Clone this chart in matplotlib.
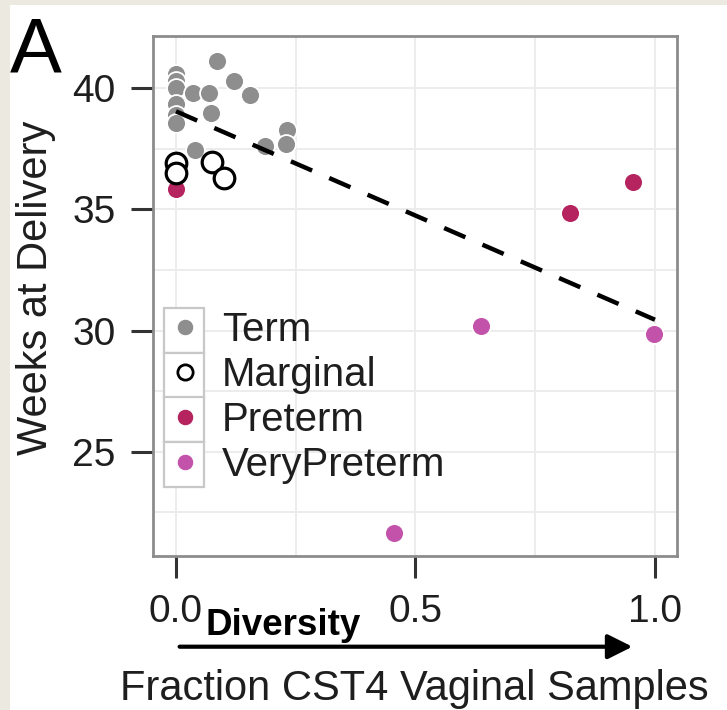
import matplotlib
matplotlib.use('Agg')
import matplotlib.pyplot as plt
from matplotlib.lines import Line2D
from matplotlib.patches import Rectangle, FancyArrowPatch
import numpy as np

plt.rcParams['font.family'] = ['Liberation Sans', 'DejaVu Sans']

# ---------------- data ----------------
term_x = [0.0, 0.0, 0.0, 0.0, 0.0, 0.0, 0.035, 0.068, 0.085, 0.121, 0.155, 0.074, 0.040, 0.186, 0.232, 0.230]
term_y = [40.6, 40.3, 40.0, 39.35, 38.9, 38.55, 39.82, 39.82, 41.13, 40.3, 39.72, 39.0, 37.45, 37.6, 38.3, 37.7]

marginal_x = [0.0, 0.0, 0.075, 0.100]
marginal_y = [36.9, 36.5, 36.95, 36.3]

preterm_x = [0.0, 0.823, 0.955]
preterm_y = [35.85, 34.85, 36.12]

verypreterm_x = [0.455, 0.636, 0.998]
verypreterm_y = [21.64, 30.18, 29.88]

fit_x = [0.0, 1.0]
fit_intercept = 39.05
fit_slope = -8.6

x_ticks = [0.0, 0.5, 1.0]
x_tick_labels = ['0.0', '0.5', '1.0']
x_minor = [0.25, 0.75]
y_ticks = [25, 30, 35, 40]
y_tick_labels = ['25', '30', '35', '40']
y_minor = [22.5, 27.5, 32.5, 37.5]

legend_labels = ['Term', 'Marginal', 'Preterm', 'VeryPreterm']

# ---------------- style ----------------
C_TERM = '#8e8e8e'
C_PRE = '#b5245e'
C_VPRE = '#c353aa'
TXT = '#1e1e1e'

W, H = 727, 710
fig = plt.figure(figsize=(W / 100, H / 100), dpi=100)
fig.patch.set_facecolor('#ece9e1')
fig.add_artist(Rectangle((10 / W, 0), 1 - 10 / W, 1 - 5 / H, transform=fig.transFigure,
                         facecolor='white', edgecolor='none', zorder=-1))

L, R, T, B = 153, 677, 36, 556
ax = fig.add_axes([L / W, 1 - B / H, (R - L) / W, (B - T) / H])
ax.set_facecolor('white')
ax.set_xlim(-0.048, 1.046)
ax.set_ylim(20.70, 42.16)

ax.set_xticks(x_ticks)
ax.set_xticklabels(x_tick_labels)
ax.set_yticks(y_ticks)
ax.set_yticklabels(y_tick_labels)
ax.set_xticks(x_minor, minor=True)
ax.set_yticks(y_minor, minor=True)
ax.grid(which='both', color='#ececec', linewidth=1.4, zorder=0)
ax.set_axisbelow(True)
ax.tick_params(which='minor', length=0)
ax.tick_params(which='major', length=16, width=2.2, color='#333333', pad=11,
               labelsize=28, labelcolor=TXT)
for sp in ax.spines.values():
    sp.set_color('#8c8c8c')
    sp.set_linewidth(2.0)

# points
ax.scatter(term_x, term_y, s=185, c=C_TERM, edgecolors='white', linewidths=1.3, zorder=3)
ax.scatter(preterm_x, preterm_y, s=185, c=C_PRE, edgecolors='white', linewidths=1.3, zorder=3)
ax.scatter(verypreterm_x, verypreterm_y, s=185, c=C_VPRE, edgecolors='white', linewidths=1.3, zorder=3)
ax.scatter(marginal_x, marginal_y, s=220, facecolors='white', edgecolors='black', linewidths=2.3, zorder=4)

# regression line
fit_y = [fit_intercept + fit_slope * v for v in fit_x]
ax.plot(fit_x, fit_y, color='black', linewidth=3.2, linestyle=(0, (5.2, 4.2)), zorder=5)

# legend
handles = [
    Line2D([], [], marker='o', ls='', markersize=12, markerfacecolor=C_TERM, markeredgecolor='white', markeredgewidth=0.8),
    Line2D([], [], marker='o', ls='', markersize=11, markerfacecolor='white', markeredgecolor='black', markeredgewidth=2.0),
    Line2D([], [], marker='o', ls='', markersize=12, markerfacecolor=C_PRE, markeredgecolor='white', markeredgewidth=0.8),
    Line2D([], [], marker='o', ls='', markersize=12, markerfacecolor=C_VPRE, markeredgecolor='white', markeredgewidth=0.8),
]
fs_leg = 29
leg = ax.legend(handles, legend_labels, loc='center left',
                bbox_to_anchor=(175 / W, 1 - 397.5 / H), bbox_transform=fig.transFigure,
                frameon=False, borderpad=0, borderaxespad=0, fontsize=fs_leg,
                handlelength=0.5, handletextpad=0.67, labelspacing=0.17)
for t in leg.get_texts():
    t.set_color(TXT)
leg.set_zorder(10)

# per-key boxes (drawn under the legend)
fig.canvas.draw()
for t in leg.get_texts():
    bb = t.get_window_extent()
    yc = (bb.y0 + bb.y1) / 2.0
    box = Rectangle((164 / W, (yc - 22.5) / H), 40 / W, 45 / H, transform=fig.transFigure,
                    facecolor='white', edgecolor='#c8c8c8', linewidth=1.6, zorder=6, clip_on=False)
    ax.add_patch(box)

# axis titles
fig.text(414 / W, 1 - 700 / H, 'Fraction CST4 Vaginal Samples', ha='center', va='baseline',
         fontsize=30, color=TXT)
fig.text(36 / W, 1 - 288 / H, 'Weeks at Delivery', ha='center', va='center', rotation=90,
         fontsize=30, color=TXT)

# panel letter
fig.text(10 / W, 1 - 73 / H, 'A', ha='left', va='baseline', fontsize=56, color='black')

# diversity arrow
fig.text(205 / W, 1 - 635 / H, 'Diversity', ha='left', va='baseline', fontsize=26.5,
         fontweight='bold', color='black')
arr = FancyArrowPatch((179.6 / W, 1 - 646.7 / H), (632.4 / W, 1 - 646.7 / H),
                      transform=fig.transFigure, arrowstyle='-|>,head_length=15,head_width=7.5',
                      mutation_scale=1, linewidth=3.0, color='black', shrinkA=0, shrinkB=0)
fig.add_artist(arr)

fig.savefig('out.png', dpi=100, facecolor=fig.get_facecolor())
